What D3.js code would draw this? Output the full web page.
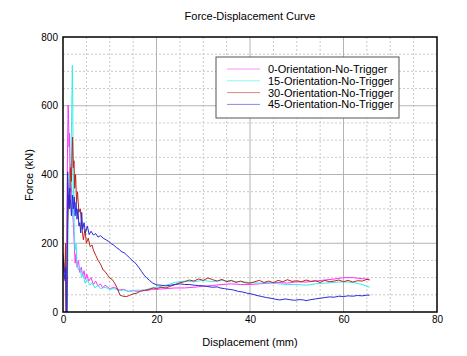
<!DOCTYPE html>
<html><head><meta charset="utf-8">
<script src="https://cdn.jsdelivr.net/npm/d3@7"></script>
<style>body{margin:0;background:#fff}svg{display:block;font-family:"Liberation Sans",Arial,sans-serif}</style>
</head><body><svg id="c" width="467" height="356"></svg>
<script>
const seriesNames = ["0-Orientation-No-Trigger","15-Orientation-No-Trigger","30-Orientation-No-Trigger","45-Orientation-No-Trigger"];
const seriesColors = ["#ff33ff","#33eeee","#b8261c","#2a2ad8"];
const xTicks = [0,20,40,60,80];
const yTicks = [0,200,400,600,800];

const s0 = [[0,150],[0.2,120],[0.4,90],[0.55,160],[0.65,0],[0.75,0],[0.85,300],[0.95,452],[1.05,560],[1.1,602],[1.2,560],[1.3,480],[1.4,520],[1.5,400],[1.6,430],[1.75,375],[1.9,330],[2.0,300],[2.2,260],[2.4,200],[2.6,142],[2.8,170],[3.0,130],[3.3,150],[3.6,115],[3.9,130],[4.2,105],[4.5,120],[4.8,95],[5.1,110],[5.5,90],[6.0,100],[6.5,80],[7.0,90],[7.5,75],[8.0,82],[8.5,70],[9,78],[10,68],[11,72],[12,64],[13,66],[14,60],[15,62],[16,60],[17,64],[18,62],[19,66],[20,66],[22,68],[24,70],[26,70],[28,72],[30,75],[32,77],[34,80],[36,82],[38,80],[40,80],[42,82],[44,84],[46,86],[48,84],[50,88],[52,87],[54,90],[56,93],[58,96],[60,100],[62,100],[64,97],[65.6,95]];
const s1 = [[0,140],[0.3,110],[0.6,180],[0.8,0],[0.9,0],[1.1,250],[1.4,400],[1.6,350],[1.8,520],[2.0,718],[2.1,600],[2.2,277],[2.3,400],[2.4,230],[2.6,180],[2.8,200],[3.0,140],[3.3,122],[3.6,130],[4.0,100],[4.3,110],[4.7,84],[5.2,95],[5.7,78],[6.2,85],[6.8,70],[7.5,78],[8,68],[9,72],[10,66],[11,68],[12,62],[13,64],[14,60],[15,62],[16,64],[17,62],[18,66],[19,70],[20,72],[22,78],[24,86],[26,90],[28,88],[30,92],[32,88],[34,92],[36,90],[38,88],[40,86],[42,84],[44,86],[46,82],[48,80],[50,80],[52,78],[54,82],[56,84],[58,86],[60,88],[62,86],[64,80],[65.6,72]];
const s2 = [[0,170],[0.2,130],[0.4,115],[0.55,200],[0.65,0],[0.8,0],[1.0,260],[1.2,340],[1.4,300],[1.6,420],[1.8,380],[1.95,470],[2.05,509],[2.2,420],[2.35,440],[2.5,360],[2.7,400],[2.9,320],[3.1,350],[3.4,290],[3.7,300],[4.0,250],[4.35,210],[4.7,240],[5.0,200],[5.4,215],[5.8,190],[6.2,195],[6.5,180],[7.0,165],[7.5,150],[8.0,140],[8.6,122],[9.0,118],[9.5,108],[10,99],[10.5,95],[11,85],[11.5,72],[12.2,49],[12.8,46],[13.6,45],[14.2,48],[14.8,52],[15.8,55],[16.5,60],[17.5,63],[18.5,66],[19.3,70],[20,68],[21,72],[22,70],[23,75],[24,80],[25,85],[26,88],[27,93],[28,90],[29,96],[30,92],[31,99],[32,94],[33,90],[34,95],[35,88],[36,92],[37,86],[38,90],[39,85],[40,84],[41,88],[42,92],[43,86],[44,90],[45,85],[46,92],[47,88],[48,94],[49,89],[50,91],[51,88],[52,93],[53,89],[54,91],[55,86],[56,92],[57,88],[58,90],[59,93],[60,88],[61,92],[62,87],[63,91],[64,90],[65,95],[65.6,93]];
const s3 = [[0,160],[0.15,140],[0.3,100],[0.45,95],[0.6,130],[0.7,0],[0.85,0],[0.9,250],[1.0,408],[1.15,330],[1.3,300],[1.45,360],[1.6,320],[1.8,280],[2.0,340],[2.2,300],[2.4,335],[2.6,280],[2.8,320],[3.0,270],[3.2,300],[3.4,250],[3.6,260],[3.8,230],[4.0,290],[4.2,240],[4.5,260],[4.8,230],[5.2,250],[5.6,225],[6.0,235],[6.5,224],[7.0,228],[7.5,218],[8.0,222],[8.6,215],[9.2,210],[9.8,205],[10.4,198],[10.8,195],[11.4,188],[12,182],[12.6,175],[13.1,172],[13.6,166],[14.2,158],[14.8,150],[15.3,145],[15.8,137],[16.3,128],[16.8,118],[17.3,108],[17.9,99],[18.5,92],[19.2,84],[20,79],[21,78],[22,76],[23,78],[24,80],[25,82],[26,80],[27,80],[28,78],[29,77],[30,76],[31,74],[32,72],[33,73],[33.6,70],[34.5,68],[35.5,66],[36.5,64],[37.5,60],[38.5,58],[39.3,55],[40.5,52],[41.5,48],[42.5,45],[43.5,42],[44.5,40],[45.5,37],[46.4,35],[47.5,38],[48.5,36],[49.5,34],[50.5,36],[51.5,35],[52,33],[53,36],[54,38],[55,40],[56,42],[57,44],[58,43],[59,46],[60,45],[61,47],[62,46],[63,48],[64,47],[65,49],[65.6,49]];
const allSeries = [s0,s1,s2,s3];

const svg = d3.select("#c");
const L=63,R=437,T=37,B=312;
const x = d3.scaleLinear().domain([0,80]).range([L,R]);
const y = d3.scaleLinear().domain([0,800]).range([B,T]);

// minor grid
const g = svg.append("g");
g.selectAll(".mx").data(d3.range(5,80,5).filter(v=>v%20)).enter().append("line")
 .attr("x1",d=>x(d)).attr("x2",d=>x(d)).attr("y1",T).attr("y2",B)
 .attr("stroke","#c8c8c8").attr("stroke-dasharray","2,2").attr("stroke-width",1);
g.selectAll(".my").data(d3.range(50,800,50).filter(v=>v%200)).enter().append("line")
 .attr("y1",d=>y(d)).attr("y2",d=>y(d)).attr("x1",L).attr("x2",R)
 .attr("stroke","#c8c8c8").attr("stroke-dasharray","2,2").attr("stroke-width",1);
// major grid
g.selectAll(".Mx").data(xTicks.slice(1,-1)).enter().append("line")
 .attr("x1",d=>x(d)).attr("x2",d=>x(d)).attr("y1",T).attr("y2",B)
 .attr("stroke","#b4b4b4").attr("stroke-width",1);
g.selectAll(".My").data(yTicks.slice(1,-1)).enter().append("line")
 .attr("y1",d=>y(d)).attr("y2",d=>y(d)).attr("x1",L).attr("x2",R)
 .attr("stroke","#b4b4b4").attr("stroke-width",1);

svg.append("clipPath").attr("id","clip").append("rect").attr("x",L).attr("y",T).attr("width",R-L).attr("height",B-T);
const line = d3.line().x(d=>x(d[0])).y(d=>y(d[1]));
svg.append("g").attr("clip-path","url(#clip)").selectAll("path").data(allSeries).enter().append("path")
 .attr("d",line).attr("fill","none").attr("stroke",(d,i)=>seriesColors[i]).attr("stroke-width",1);

// axes
const xAxis = d3.axisBottom(x).tickValues(xTicks).tickSize(0).tickPadding(4);
const yAxis = d3.axisLeft(y).tickValues(yTicks).tickSize(0).tickPadding(5);
const gx = svg.append("g").attr("transform",`translate(0,${B})`).call(xAxis);
const gy = svg.append("g").attr("transform",`translate(${L},0)`).call(yAxis);
[gx,gy].forEach(a=>{a.select(".domain").remove();a.selectAll("text").attr("font-size",10).attr("fill","#000").attr("font-family","Liberation Sans, Arial, sans-serif");});

svg.append("rect").attr("x",L).attr("y",T).attr("width",R-L).attr("height",B-T)
 .attr("fill","none").attr("stroke","#000").attr("stroke-width",1.5);

svg.append("text").attr("x",250).attr("y",20).attr("text-anchor","middle").attr("font-size",11).text("Force-Displacement Curve");
svg.append("text").attr("x",250).attr("y",346).attr("text-anchor","middle").attr("font-size",11).text("Displacement (mm)");
svg.append("text").attr("transform","translate(33,175) rotate(-90)").attr("text-anchor","middle").attr("font-size",11).text("Force (kN)");

// legend
const lg = svg.append("g");
lg.append("rect").attr("x",216).attr("y",57).attr("width",183).attr("height",61).attr("fill","#fff").attr("stroke","#555").attr("stroke-width",1);
seriesNames.forEach((n,i)=>{
  const yy = 69 + i*11.8;
  lg.append("line").attr("x1",227).attr("x2",260).attr("y1",yy).attr("y2",yy).attr("stroke",seriesColors[i]).attr("stroke-opacity",0.55).attr("stroke-width",1);
  lg.append("text").attr("x",268).attr("y",yy+4).attr("font-size",11).text(n);
});
</script></body></html>
